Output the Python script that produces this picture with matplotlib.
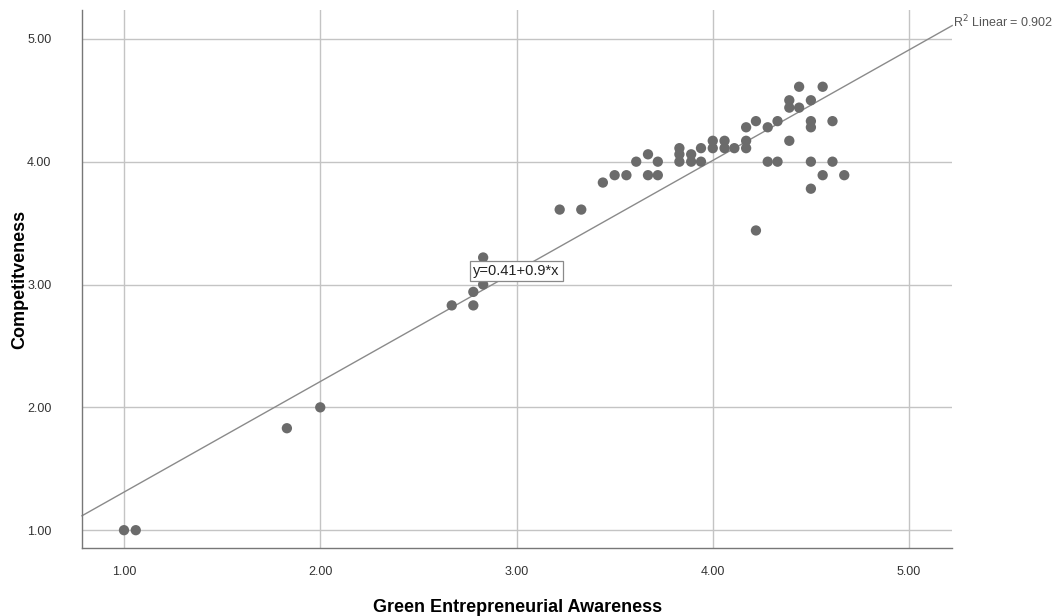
import numpy as np
import matplotlib.pyplot as plt

plt.rcParams['font.family'] = ['Liberation Sans', 'DejaVu Sans']

# Green Entrepreneurial Awareness (x) vs Competitiveness (y)
awareness = [1.00, 1.06, 1.83, 2.00, 2.67, 2.78, 2.78, 2.83, 2.83,
             3.22, 3.33, 3.44, 3.50, 3.56, 3.61, 3.67, 3.67, 3.72, 3.72,
             3.83, 3.83, 3.83, 3.89, 3.89, 3.94, 3.94, 4.00, 4.00,
             4.06, 4.06, 4.11, 4.17, 4.17, 4.17, 4.22, 4.22, 4.28, 4.28,
             4.33, 4.33, 4.39, 4.39, 4.39, 4.44, 4.44, 4.50, 4.50, 4.50,
             4.50, 4.50, 4.56, 4.56, 4.61, 4.61, 4.67]
competitiveness = [1.00, 1.00, 1.83, 2.00, 2.83, 2.83, 2.94, 3.00, 3.22,
                   3.61, 3.61, 3.83, 3.89, 3.89, 4.00, 4.06, 3.89, 4.00, 3.89,
                   4.11, 4.06, 4.00, 4.06, 4.00, 4.11, 4.00, 4.17, 4.11,
                   4.17, 4.11, 4.11, 4.17, 4.11, 4.28, 4.33, 3.44, 4.28, 4.00,
                   4.33, 4.00, 4.50, 4.44, 4.17, 4.61, 4.44, 4.50, 4.33, 4.28,
                   4.00, 3.78, 4.61, 3.89, 4.33, 4.00, 3.89]

fit_intercept = 0.41
fit_slope = 0.9
r_squared = 0.902
ticks = [1.0, 2.0, 3.0, 4.0, 5.0]

xlim = (0.786, 5.22)
ylim = (0.853, 5.236)

fig = plt.figure(figsize=(10.58, 6.16), dpi=100)
ax = fig.add_axes([0.0775, 0.110, 0.8225, 0.874])

grid_col = '#c4c4c4'
for t in ticks:
    ax.axvline(t, color=grid_col, lw=1.0, zorder=1)
    ax.axhline(t, color=grid_col, lw=1.0, zorder=1)

ax.scatter(awareness, competitiveness, s=55, color='#6b6b6b', edgecolors='none', zorder=3)

# fit line across the whole plot
xs = np.array(xlim)
ax.plot(xs, fit_intercept + fit_slope * xs, color='#8a8a8a', lw=1.0, zorder=2, clip_on=False)

ax.text(3.0, 3.11, f"y={fit_intercept}+{fit_slope}*x", ha='center', va='center', fontsize=10.5,
        color='#222222', zorder=5,
        bbox=dict(boxstyle='square,pad=0.2', fc='white', ec='#8a8a8a', lw=0.9))

ax.text(xlim[1] + 0.005, fit_intercept + fit_slope * xlim[1] + 0.03, "R$^2$ Linear = " + f"{r_squared}",
        ha='left', va='center', fontsize=9, color='#555555', clip_on=False)

ax.set_xlim(xlim)
ax.set_ylim(ylim)
ax.set_xticks(ticks)
ax.set_yticks(ticks)
ax.set_xticklabels([f"{t:.2f}" for t in ticks])
ax.set_yticklabels([f"{t:.2f}" for t in ticks])
ax.tick_params(length=0, labelsize=9, colors='#333333')
ax.tick_params(axis='x', pad=13)
ax.tick_params(axis='y', pad=22)

for side in ['top', 'right']:
    ax.spines[side].set_visible(False)
for side in ['left', 'bottom']:
    ax.spines[side].set_color('#777777')
    ax.spines[side].set_linewidth(1.0)

ax.set_xlabel('Green Entrepreneurial Awareness', fontsize=13, fontweight='bold', va='center')
ax.set_ylabel('Competitveness', fontsize=13, fontweight='bold', va='center')
ax.xaxis.set_label_coords(0.5, -0.1097)
ax.yaxis.set_label_coords(-0.0713, 0.5)

fig.savefig('out.png', dpi=100, facecolor='white')
